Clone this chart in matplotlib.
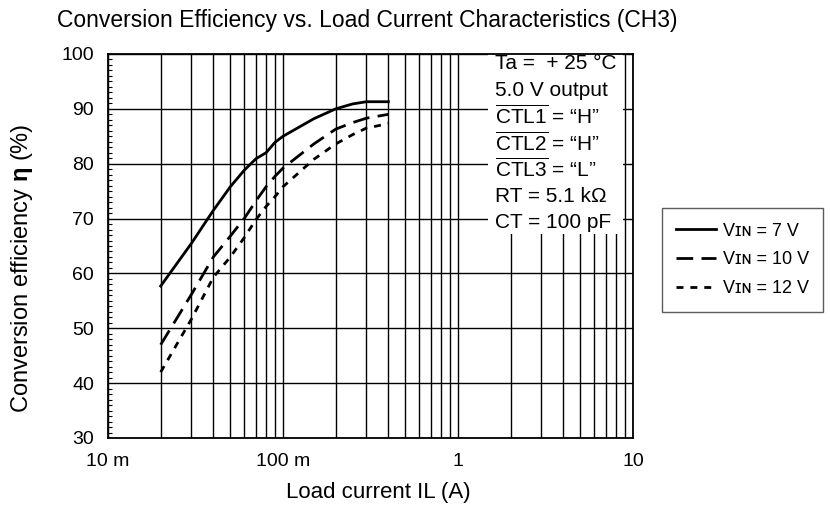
import numpy as np
import matplotlib
matplotlib.use("Agg")
import matplotlib.pyplot as plt
from matplotlib.patches import Rectangle
from matplotlib.ticker import LogLocator, FixedLocator, MultipleLocator, NullFormatter

plt.rcParams['font.family'] = ['Liberation Sans', 'DejaVu Sans']
plt.rcParams['mathtext.fontset'] = 'custom'
plt.rcParams['mathtext.rm'] = 'Liberation Sans'
plt.rcParams['mathtext.it'] = 'Liberation Sans:italic'
plt.rcParams['mathtext.bf'] = 'Liberation Sans:bold'

# Load current (A)
current = [0.02, 0.03, 0.04, 0.05, 0.06, 0.07, 0.08, 0.09, 0.1, 0.15, 0.2, 0.25, 0.3, 0.4]
# Efficiency (%) for each input voltage
eff_7v = [57.7, 65.5, 71.5, 75.8, 78.8, 80.9, 82.0, 83.9, 85.0, 88.2, 90.0, 90.9, 91.3, 91.3]
eff_10v = [47.0, 56.2, 63.0, 66.8, 70.0, 73.2, 75.8, 77.7, 79.2, 83.6, 86.3, 87.5, 88.3, 89.0]
eff_12v = [42.0, 51.7, 59.3, 63.0, 66.5, 69.8, 72.2, 74.0, 75.8, 80.8, 83.6, 85.3, 86.5, 87.3]

xticks = [0.01, 0.1, 1, 10]
xticklabels = ["10 m", "100 m", "1", "10"]
yticks = [30, 40, 50, 60, 70, 80, 90, 100]

cond_lines = [
    "Ta =  + 25 \u00b0C",
    "5.0 V output",
    r"$\overline{\mathrm{CTL1}}$" + " = \u201cH\u201d",
    r"$\overline{\mathrm{CTL2}}$" + " = \u201cH\u201d",
    r"$\overline{\mathrm{CTL3}}$" + " = \u201cL\u201d",
    "RT = 5.1 k\u03a9",
    "CT = 100 pF",
]

fig = plt.figure(figsize=(8.3, 5.12), dpi=100)
ax = fig.add_axes([108/830, 1 - 438/512, (633-108)/830, (438-54)/512])

ax.plot(current, eff_7v, color="black", lw=2.0, linestyle="-", label="V\u026a\u0274 = 7 V", zorder=4)
ax.plot(current, eff_10v, color="black", lw=2.0, linestyle=(0, (6, 3)), label="V\u026a\u0274 = 10 V", zorder=4)
ax.plot(current, eff_12v, color="black", lw=2.0, linestyle=(0, (2.5, 2.5)), label="V\u026a\u0274 = 12 V", zorder=4)

ax.set_xscale("log")
ax.set_xlim(0.01, 10)
ax.set_ylim(30, 100)
ax.xaxis.set_major_locator(FixedLocator(xticks))
ax.set_xticklabels(xticklabels)
ax.xaxis.set_minor_locator(LogLocator(base=10, subs=np.arange(2, 10)))
ax.xaxis.set_minor_formatter(NullFormatter())
ax.yaxis.set_major_locator(FixedLocator(yticks))
ax.yaxis.set_minor_locator(MultipleLocator(1))

ax.grid(True, which="major", axis="both", color="black", lw=1.0, zorder=1)
ax.grid(True, which="minor", axis="x", color="black", lw=1.0, zorder=1)
ax.set_axisbelow(True)
ax.tick_params(axis="x", which="both", length=0, labelsize=14, pad=11)
ax.tick_params(axis="y", which="major", length=0, labelsize=14, pad=10)
ax.tick_params(axis="y", which="minor", direction="in", length=3, width=0.8)
for sp in ax.spines.values():
    sp.set_linewidth(1.3)

# white panel for the test conditions
ax.add_patch(Rectangle((1.48, 67.2), 8.8 - 1.48, 33, facecolor="white", edgecolor="none", zorder=2))
for i, line in enumerate(cond_lines):
    ax.text(0.737, 0.975 - i * 0.069, line, transform=ax.transAxes, fontsize=15,
            ha="left", va="center", zorder=3)

fig.text(367/830, 1 - 20/512, "Conversion Efficiency vs. Load Current Characteristics (CH3)",
         fontsize=16.5, ha="center", va="center")
ax.set_xlabel("Load current IL (A)", fontsize=16, labelpad=10)
ax.set_ylabel("Conversion efficiency $\\mathbf{\\eta}$ (%)", fontsize=17)
ax.xaxis.set_label_coords(0.515, -0.115)
ax.yaxis.set_label_coords(-0.139, 0.443)

leg = fig.legend(loc="center", bbox_to_anchor=(663/830, 1 - 311/512, 159/830, 102/512),
                 fontsize=13, frameon=True, fancybox=False, handlelength=2.2,
                 handletextpad=0.4, labelspacing=0.65, borderpad=0.8, borderaxespad=0)
leg.get_frame().set_edgecolor("#333333")
leg.get_frame().set_linewidth(1.0)

fig.savefig("out.png", dpi=100)
